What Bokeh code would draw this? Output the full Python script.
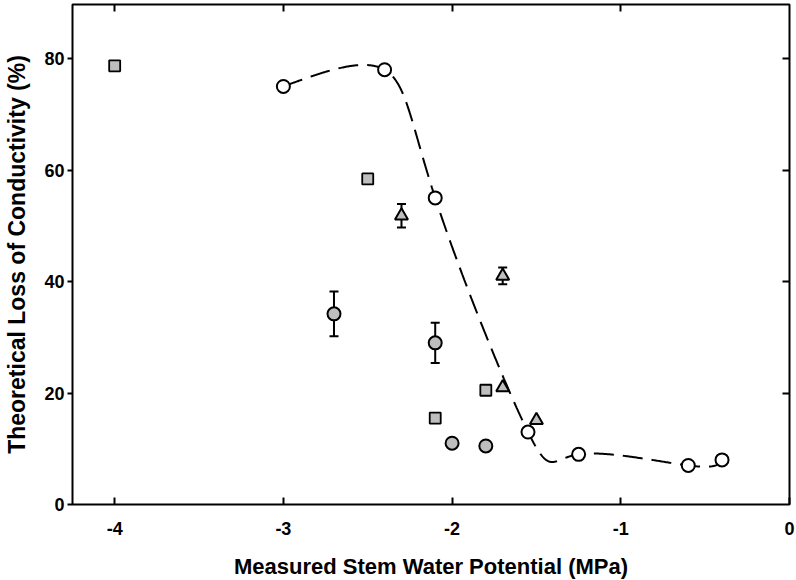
import numpy as np
from bokeh.plotting import figure
from bokeh.models import LinearAxis, FixedTicker, Range1d, Whisker, ColumnDataSource
from bokeh.embed import file_html
from bokeh.resources import INLINE

# ---- data ----
open_x = [-3.0, -2.4, -2.1, -1.55, -1.25, -0.6, -0.4]
open_y = [75.0, 78.0, 55.0, 13.0, 9.0, 7.0, 8.0]

sq_x = [-4.0, -2.5, -2.1, -1.8]
sq_y = [78.7, 58.4, 15.5, 20.5]

circ_x = [-2.7, -2.1, -2.0, -1.8]
circ_y = [34.2, 29.0, 11.0, 10.5]
circ_err = [4.0, 3.6, 0.0, 0.0]

tri_x = [-2.3, -1.7, -1.7, -1.5]
tri_y = [51.8, 41.0, 21.0, 15.1]
tri_err = [2.1, 1.5, 0.0, 0.0]

x_ticks = [-4, -3, -2, -1, 0]
y_ticks = [0, 20, 40, 60, 80]

X0, X1 = -4.25, 0.0
Y0, Y1 = 0.0, 89.7
FW, FH = 717, 500


def natural_coeffs(t, v):
    n = len(t)
    h = np.diff(t)
    A = np.zeros((n, n))
    b = np.zeros(n)
    A[0, 0] = 1.0
    A[-1, -1] = 1.0
    for i in range(1, n - 1):
        A[i, i - 1] = h[i - 1]
        A[i, i] = 2 * (h[i - 1] + h[i])
        A[i, i + 1] = h[i]
        b[i] = 6 * ((v[i + 1] - v[i]) / h[i] - (v[i] - v[i - 1]) / h[i - 1])
    return np.linalg.solve(A, b)


def natural_eval(t, v, M, ts):
    n = len(t)
    h = np.diff(t)
    out = np.empty_like(ts)
    for k, tv in enumerate(ts):
        i = min(max(np.searchsorted(t, tv) - 1, 0), n - 2)
        t1 = t[i + 1] - tv
        t0 = tv - t[i]
        out[k] = (M[i] * t1 ** 3 / (6 * h[i]) + M[i + 1] * t0 ** 3 / (6 * h[i])
                  + (v[i] / h[i] - M[i] * h[i] / 6) * t1
                  + (v[i + 1] / h[i] - M[i + 1] * h[i] / 6) * t0)
    return out


def parametric_spline(x, y, num=600):
    # uniformly parameterised natural cubic spline through the points
    xv = np.asarray(x, float)
    yv = np.asarray(y, float)
    t = np.arange(len(xv), dtype=float)
    ts = np.linspace(0, t[-1], num)
    cx = natural_eval(t, xv, natural_coeffs(t, xv), ts)
    cy = natural_eval(t, yv, natural_coeffs(t, yv), ts)
    return cx, cy


curve_x, curve_y = parametric_spline(open_x, open_y)

FONT = "Liberation Sans"
GRAY = "#bebebe"

p = figure(frame_width=FW, frame_height=FH, output_backend="svg", toolbar_location=None,
           x_range=Range1d(X0, X1), y_range=Range1d(Y0, Y1),
           min_border_left=72, min_border_right=7, min_border_top=4,
           min_border_bottom=76)
p.grid.visible = False
p.background_fill_color = "white"
p.border_fill_color = "white"
p.outline_line_color = "black"
p.outline_line_width = 2

# bottom axis
xa = p.xaxis[0]
xa.ticker = FixedTicker(ticks=x_ticks)
xa.major_label_overrides = {t: str(t) for t in x_ticks}
xa.axis_label = "Measured Stem Water Potential (MPa)"
xa.major_tick_in = 7
xa.major_tick_out = 0
xa.minor_tick_line_color = None
xa.major_tick_line_width = 2
xa.axis_line_color = None
xa.major_label_standoff = 17
xa.axis_label_standoff = 16
xa.major_label_text_font = FONT
xa.major_label_text_font_style = "bold"
xa.major_label_text_font_size = "18px"
xa.major_label_text_color = "black"
xa.axis_label_text_font = FONT
xa.axis_label_text_font_style = "bold"
xa.axis_label_text_font_size = "22px"
xa.axis_label_text_color = "black"

# left axis
ya = p.yaxis[0]
ya.ticker = FixedTicker(ticks=y_ticks)
ya.axis_label = "Theoretical Loss of Conductivity (%)"
ya.major_tick_in = 0
ya.major_tick_out = 5
ya.minor_tick_line_color = None
ya.major_tick_line_width = 2
ya.axis_line_color = None
ya.major_label_standoff = 3
ya.axis_label_standoff = 11
ya.major_label_text_font = FONT
ya.major_label_text_font_style = "bold"
ya.major_label_text_font_size = "18px"
ya.major_label_text_color = "black"
ya.axis_label_text_font = FONT
ya.axis_label_text_font_style = "bold"
ya.axis_label_text_font_size = "23px"
ya.axis_label_text_color = "black"

# top and right axes: inward ticks only
top = LinearAxis(ticker=FixedTicker(ticks=x_ticks[:-1]), major_tick_in=7, major_tick_out=0,
                 minor_tick_line_color=None, axis_line_color=None, major_tick_line_width=2,
                 major_label_text_font_size="0px", major_label_standoff=0)
right = LinearAxis(ticker=FixedTicker(ticks=y_ticks[1:]), major_tick_in=7, major_tick_out=0,
                   minor_tick_line_color=None, axis_line_color=None, major_tick_line_width=2,
                   major_label_text_font_size="0px", major_label_standoff=0)
p.add_layout(top, "above")
p.add_layout(right, "right")

# dashed spline through the open circles
p.line(curve_x, curve_y, line_color="black", line_width=2, line_dash="20 9")

# error bars
csrc = ColumnDataSource(dict(x=circ_x, y=circ_y,
                             lo=[a - e for a, e in zip(circ_y, circ_err)],
                             hi=[a + e for a, e in zip(circ_y, circ_err)]))
tsrc = ColumnDataSource(dict(x=tri_x, y=tri_y,
                             lo=[a - e for a, e in zip(tri_y, tri_err)],
                             hi=[a + e for a, e in zip(tri_y, tri_err)]))
for src in (csrc, tsrc):
    w = Whisker(source=src, base="x", lower="lo", upper="hi", dimension="height",
                line_color="black", line_width=2)
    w.upper_head.size = 9
    w.lower_head.size = 9
    w.upper_head.line_width = 2
    w.lower_head.line_width = 2
    p.add_layout(w)

p.scatter(sq_x, sq_y, marker="square", size=11, fill_color=GRAY,
          line_color="black", line_width=1.8)
p.scatter("x", "y", source=csrc, marker="circle", size=13, fill_color=GRAY,
          line_color="black", line_width=2)
p.scatter("x", "y", source=tsrc, marker="triangle", size=13, fill_color=GRAY,
          line_color="black", line_width=2)
p.scatter(open_x, open_y, marker="circle", size=13, fill_color="white",
          line_color="black", line_width=2)

open("out.html", "w").write(file_html(p, INLINE))
